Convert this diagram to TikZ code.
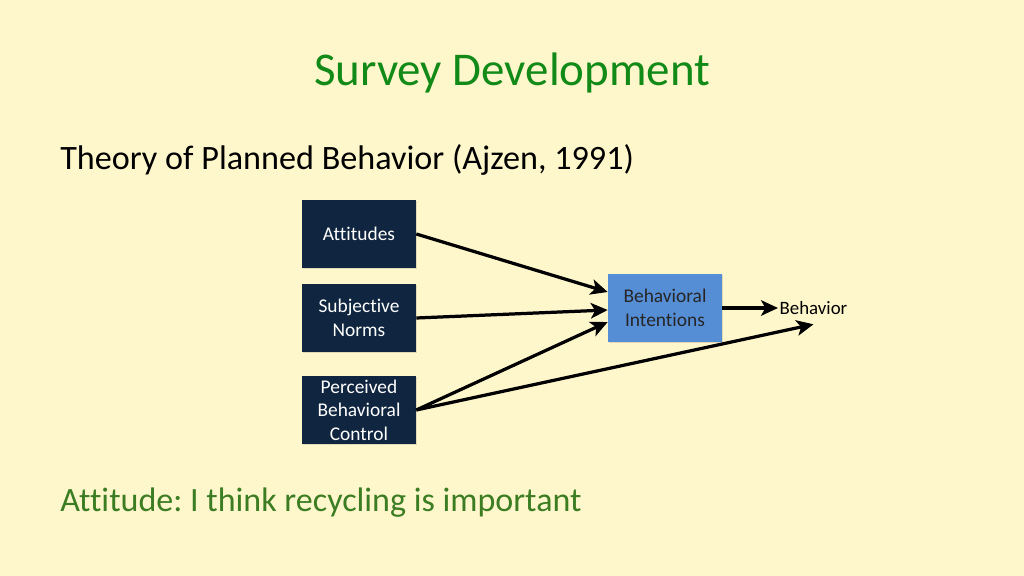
\documentclass[tikz,border=0pt]{standalone}
\usepackage{fontspec}
\setmainfont[Ligatures={NoCommon}]{Carlito}
\usetikzlibrary{arrows.meta,shadows}
\definecolor{slidebg}{RGB}{255,247,204}
\definecolor{titlegreen}{RGB}{18,138,24}
\definecolor{notegreen}{RGB}{60,125,35}
\definecolor{darkbox}{RGB}{16,37,63}
\definecolor{lightbox}{RGB}{85,142,213}
\frenchspacing
\begin{document}
\begin{tikzpicture}[x=0.025cm,y=-0.025cm,
  box/.style={rectangle,fill=darkbox,text=white,minimum width=2.85cm,minimum height=1.7cm,
    align=center,inner sep=1pt,font=\fontsize{13.8}{16.6}\selectfont,
    drop shadow={opacity=0.25,shadow xshift=1pt,shadow yshift=-1pt}},
  arr/.style={line width=2.3pt,-{Stealth[length=12pt,width=11pt,inset=3pt]}}]

\fill[slidebg] (0,0) rectangle (1024,576);

%Title
\node[text=titlegreen,font=\fontsize{33.4}{38}\selectfont] (T) at (512,73) {Survey Development};
\node[anchor=west,font=\fontsize{24.3}{29}\selectfont,inner sep=0pt] (S) at (60,160) {Theory of Planned Behavior (Ajzen, 1991)};

%Boxes
\node[box] (A) at (359,234) {Attitudes};
\node[box] (B) at (359,318) {Subjective\\Norms};
\node[box] (C) at (359,410) {Perceived\\Behavioral\\Control};
\node[box,fill=lightbox,text=black!85] (D) at (665,308) {Behavioral\\Intentions};
\node[anchor=west,font=\fontsize{13.4}{16}\selectfont,inner sep=1pt] (E) at (778,308) {Behavior};

\path (A.east) edge [arr] ([yshift=0.4cm]D.west);
\path (B.east) edge [arr] ([yshift=-0.05cm]D.west);
\path (C.east) edge [arr] ([yshift=-0.35cm]D.west);
\path (C.east) edge [arr] ([yshift=-0.2cm]E.south);
\path (D.east) edge [arr] (E.west);

%Note
\node[anchor=west,text=notegreen,font=\fontsize{24.2}{29}\selectfont,inner sep=0pt] (N) at (60,503) {Attitude: I think recycling is important};
\end{tikzpicture}
\end{document}
